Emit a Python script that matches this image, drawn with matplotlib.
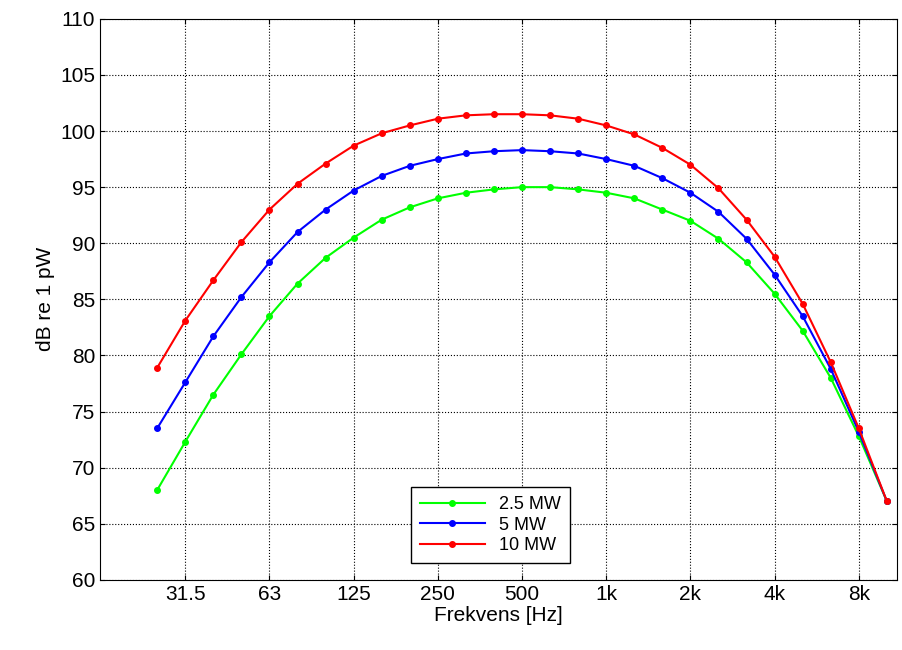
import matplotlib.pyplot as plt
import numpy as np

bands = ['25', '31.5', '40', '50', '63', '80', '100', '125', '160', '200', '250', '315', '400',
         '500', '630', '800', '1k', '1.25k', '1.6k', '2k', '2.5k', '3.15k', '4k', '5k', '6.3k', '8k', '10k']
tick_labels = ['31.5', '63', '125', '250', '500', '1k', '2k', '4k', '8k']
green = [68, 72.3, 76.5, 80.1, 83.5, 86.4, 88.7, 90.5, 92.1, 93.2, 94, 94.5, 94.8, 95, 95, 94.8,
         94.5, 94, 93, 92, 90.4, 88.3, 85.5, 82.2, 78, 72.8, 67]
blue = [73.5, 77.6, 81.7, 85.2, 88.3, 91, 93, 94.7, 96, 96.9, 97.5, 98, 98.2, 98.3, 98.2, 98,
        97.5, 96.9, 95.8, 94.5, 92.8, 90.4, 87.2, 83.5, 78.8, 73.2, 67]
red = [78.9, 83.1, 86.7, 90.1, 93, 95.3, 97.1, 98.7, 99.8, 100.5, 101.1, 101.4, 101.5, 101.5,
       101.4, 101.1, 100.5, 99.7, 98.5, 97, 94.9, 92.1, 88.8, 84.6, 79.4, 73.5, 67]

plt.rcParams['font.family'] = 'Liberation Sans'
fig = plt.figure(figsize=(9.03, 6.5), dpi=100)
ax = fig.add_axes([0.111, 0.108, 0.882, 0.863])
x = np.arange(len(bands))
ax.plot(x, green, '.-', color='#00ff00', lw=1.5, ms=8, label='2.5 MW')
ax.plot(x, blue, '.-', color='#0000ff', lw=1.5, ms=8, label='5 MW')
ax.plot(x, red, '.-', color='#ff0000', lw=1.5, ms=8, label='10 MW')
ax.set_xlim(-2.03, 26.35)
ax.set_ylim(60, 110)
ax.set_yticks(range(60, 111, 5))
ax.set_xticks([bands.index(t) for t in tick_labels])
ax.set_xticklabels(tick_labels)
ax.tick_params(labelsize=15, direction='in', top=True, right=True)
ax.grid(True, linestyle=':', color='black', lw=0.8)
ax.set_xlabel('Frekvens [Hz]', fontsize=15, labelpad=2)
ax.set_ylabel('dB re 1 pW', fontsize=15)
ax.legend(loc='lower center', bbox_to_anchor=(0.49, 0.02), fontsize=13, fancybox=False,
          edgecolor='black', framealpha=1, borderaxespad=0.3, handlelength=3.6,
          labelspacing=0.2, borderpad=0.5)
fig.savefig('out.png')
